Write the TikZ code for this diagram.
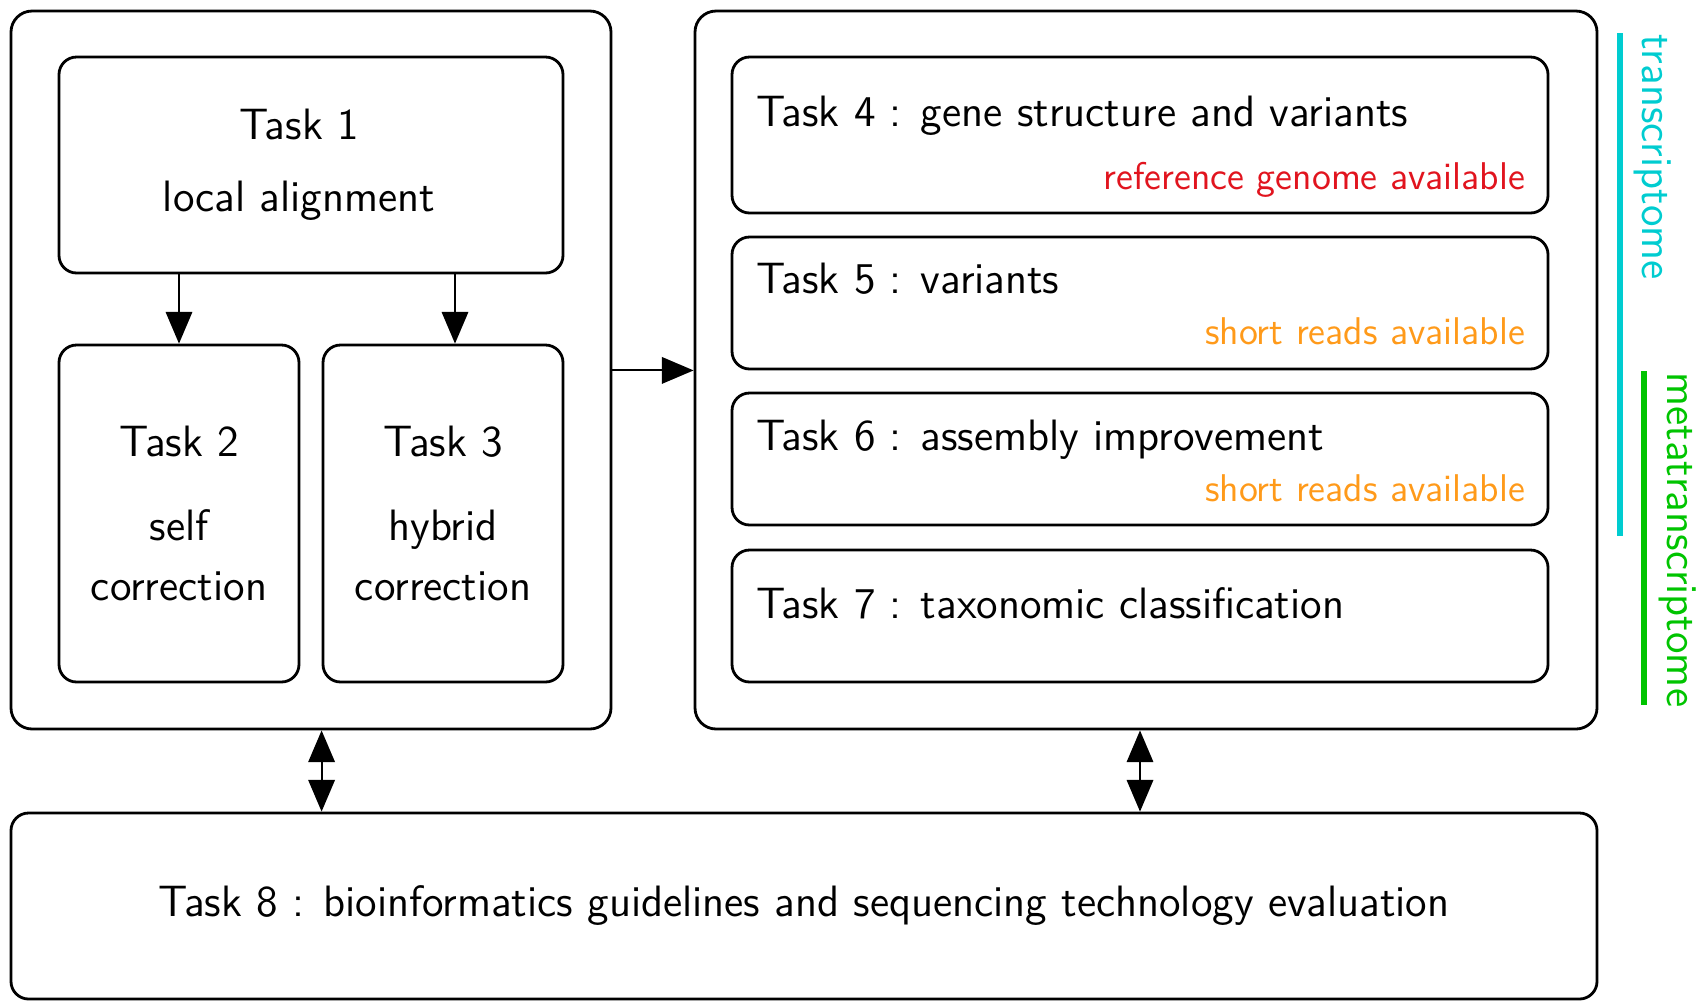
\documentclass[tikz,border=0pt]{standalone}
\definecolor{refred}{HTML}{E1141E}
\definecolor{srorange}{HTML}{FF9A1A}
\definecolor{trcyan}{HTML}{00CCD0}
\definecolor{mtgreen}{HTML}{00C400}
\usetikzlibrary{calc, positioning, arrows.meta}

\begin{document}
\begin{tikzpicture}[
  font=\sffamily\fontsize{12.5}{17}\selectfont,
  group/.style={draw, line width=0.8pt, rounded corners=6pt},
  task/.style={draw, line width=0.8pt, rounded corners=5pt, align=center, inner sep=0pt},
  note/.style={font=\sffamily\fontsize{11}{13}\selectfont},
  arr/.style={-{Triangle[length=9pt,width=7.5pt]}, line width=0.6pt},
  dblarr/.style={{Triangle[length=9pt,width=7.5pt]}-{Triangle[length=9pt,width=7.5pt]}, line width=0.6pt},
  side/.style={line width=1.8pt},
]
\useasboundingbox (0,0) rectangle (17.01,-10.01);

% the two groups
\node[group, minimum width=6.00cm, minimum height=7.18cm] (grpA) at (3.11,-3.70) {};
\node[group, minimum width=9.02cm, minimum height=7.18cm] (grpB) at (11.46,-3.70) {};

% correction tasks
\node[task, minimum width=5.04cm, minimum height=2.16cm] (t1) at (3.11,-1.65) {};
\node[align=center] (t1txt) at ($(t1.center)+(-0.12,0)$) {Task 1\\[3.5pt] local alignment};
\node[task, minimum width=2.40cm, minimum height=3.37cm] (t2) at (1.79,-5.135) {Task 2\\[7pt] self\\correction};
\node[task, minimum width=2.40cm, minimum height=3.37cm] (t3) at (4.43,-5.135) {Task 3\\[7pt] hybrid\\correction};

% analysis tasks
\node[task, minimum width=8.16cm, minimum height=1.56cm] (t4) at (11.40,-1.35) {};
\node[task, minimum width=8.16cm, minimum height=1.32cm] (t5) at (11.40,-3.03) {};
\node[task, minimum width=8.16cm, minimum height=1.32cm] (t6) at (11.40,-4.59) {};
\node[task, minimum width=8.16cm, minimum height=1.32cm] (t7) at (11.40,-6.16) {};

\node[anchor=base west] (t4h) at ($(t4.north west)+(0.13,-0.71)$) {Task 4 : gene structure and variants};
\node[anchor=base west] (t5h) at ($(t5.north west)+(0.13,-0.58)$) {Task 5 : variants};
\node[anchor=base west] (t6h) at ($(t6.north west)+(0.13,-0.59)$) {Task 6 : assembly improvement};
\node[anchor=base west] (t7h) at ($(t7.north west)+(0.13,-0.70)$) {Task 7 : taxonomic classification};

\node[note, text=refred, anchor=base east] (t4n) at ($(t4.south east)+(-0.12,0.25)$) {reference genome available};
\node[note, text=srorange, anchor=base east] (t5n) at ($(t5.south east)+(-0.12,0.26)$) {short reads available};
\node[note, text=srorange, anchor=base east] (t6n) at ($(t6.south east)+(-0.12,0.25)$) {short reads available};

% guidelines
\node[task, minimum width=15.86cm, minimum height=1.86cm] (t8) at (8.04,-9.06) {Task 8 : bioinformatics guidelines and sequencing technology evaluation};

% arrows
\draw[arr] (t1.south -| t2.north) -- (t2.north);
\draw[arr] ([xshift=1.2mm]t3.north |- t1.south) -- ([xshift=1.2mm]t3.north);
\draw[arr] (grpA.east |- t5.south) -- (grpB.west |- t5.south);
\draw[dblarr] (grpA.south -| t3.west) -- (t8.north -| t3.west);
\draw[dblarr] ([xshift=-0.6mm]grpB.south) -- ([xshift=-0.6mm]grpB.south |- t8.north);

% data types
\draw[side, trcyan] (16.20,-0.33) -- (16.20,-5.36);
\node[text=trcyan, rotate=-90, anchor=base west] (lbltr) at (16.42,-0.22) {transcriptome};
\draw[side, mtgreen] (16.44,-3.71) -- (16.44,-7.05);
\node[text=mtgreen, rotate=-90, anchor=base west] (lblmt) at (16.67,-3.60) {metatranscriptome};
\end{tikzpicture}
\end{document}
